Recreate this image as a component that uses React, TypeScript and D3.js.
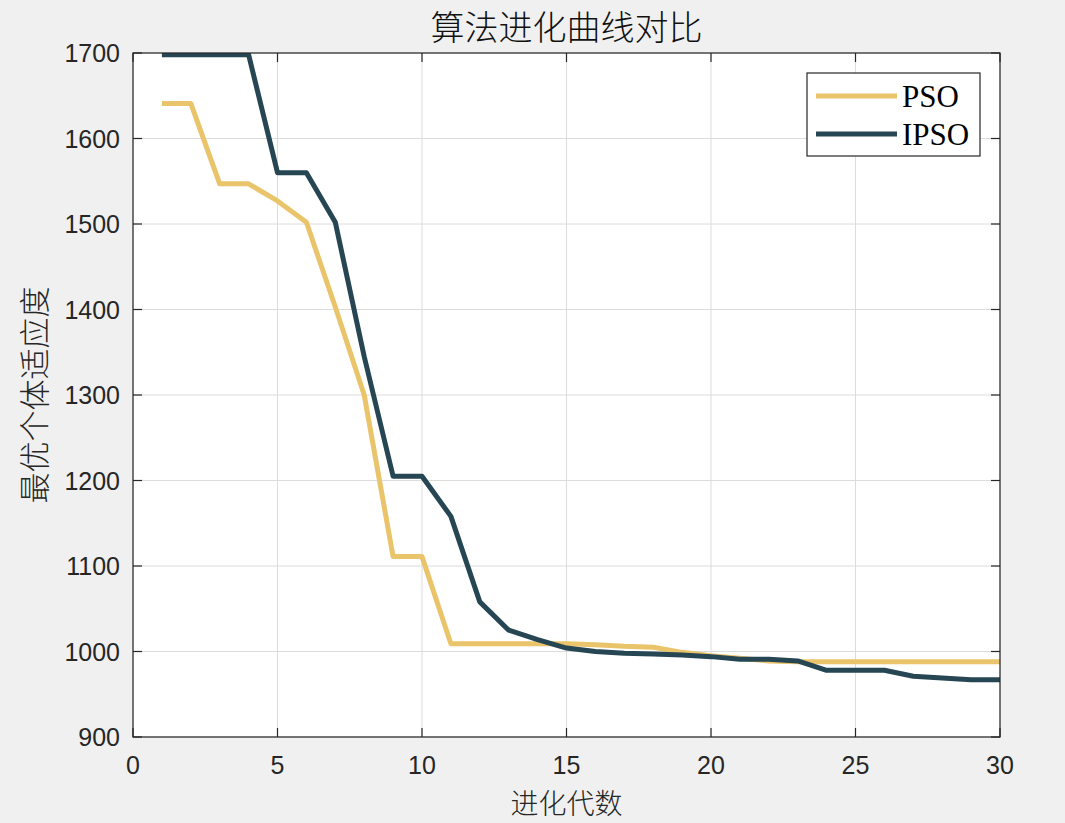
import React from "react";
import * as d3 from "d3";

const generations = d3.range(1, 31);
const psoValues = [1641, 1641, 1547, 1547, 1527, 1502, 1403, 1300, 1111, 1111, 1009, 1009, 1009, 1009, 1009, 1008, 1006, 1005, 999, 995, 992, 989, 988, 988, 988, 988, 988, 988, 988, 988];
const ipsoValues = [1698, 1698, 1698, 1698, 1560, 1560, 1502, 1345, 1205, 1205, 1158, 1058, 1025, 1014, 1004, 1000, 998, 997, 996, 994, 991, 991, 989, 978, 978, 978, 971, 969, 967, 967];
const xTicks = [0, 5, 10, 15, 20, 25, 30];
const yTicks = [900, 1000, 1100, 1200, 1300, 1400, 1500, 1600, 1700];
const seriesNames = ["PSO", "IPSO"];
const seriesColors = ["#E9C46A", "#264653"];
const titleText = "算法进化曲线对比";
const xLabel = "进化代数";
const yLabel = "最优个体适应度";

const W = 1065, H = 823;
const L = 133, R = 1000, T = 53, B = 737;

export default function App() {
  const x = d3.scaleLinear().domain([0, 30]).range([L, R]);
  const y = d3.scaleLinear().domain([900, 1700]).range([B, T]);
  const line = d3.line<number>().x((_, i) => x(generations[i])).y((d) => y(d));
  const series = [psoValues, ipsoValues];
  const axisColor = "#262626";
  const tickLen = 9;
  return (
    <svg width={W} height={H} style={{ position: "absolute", left: 0, top: 0, background: "#f0f0f0" }}>
      <defs>
        <clipPath id="plotclip">
          <rect x={L} y={T} width={R - L} height={B - T} />
        </clipPath>
      </defs>
      <rect x={0} y={0} width={W} height={H} fill="#f0f0f0" />
      <rect x={L} y={T} width={R - L} height={B - T} fill="#ffffff" />
      {xTicks.map((t) => (
        <line key={"gx" + t} x1={x(t)} x2={x(t)} y1={T} y2={B} stroke="#dcdcdc" strokeWidth={1} />
      ))}
      {yTicks.map((t) => (
        <line key={"gy" + t} x1={L} x2={R} y1={y(t)} y2={y(t)} stroke="#dcdcdc" strokeWidth={1} />
      ))}
      <g clipPath="url(#plotclip)">
        {series.map((s, i) => (
          <path key={i} d={line(s) || ""} fill="none" stroke={seriesColors[i]} strokeWidth={5} strokeLinejoin="round" />
        ))}
      </g>
      <rect x={L} y={T} width={R - L} height={B - T} fill="none" stroke={axisColor} strokeWidth={1.2} />
      {xTicks.map((t) => (
        <g key={"tx" + t}>
          <line x1={x(t)} x2={x(t)} y1={B} y2={B - tickLen} stroke={axisColor} strokeWidth={1.2} />
          <line x1={x(t)} x2={x(t)} y1={T} y2={T + tickLen} stroke={axisColor} strokeWidth={1.2} />
          <text x={x(t)} y={774} textAnchor="middle" fontFamily="'Liberation Sans', Arial, sans-serif" fontSize={25} fill={axisColor}>{t}</text>
        </g>
      ))}
      {yTicks.map((t) => (
        <g key={"ty" + t}>
          <line x1={L} x2={L + tickLen} y1={y(t)} y2={y(t)} stroke={axisColor} strokeWidth={1.2} />
          <line x1={R} x2={R - tickLen} y1={y(t)} y2={y(t)} stroke={axisColor} strokeWidth={1.2} />
          <text x={120} y={y(t)} dy="0.36em" textAnchor="end" fontFamily="'Liberation Sans', Arial, sans-serif" fontSize={25} fill={axisColor}>{t}</text>
        </g>
      ))}
      <text x={(L + R) / 2} y={40} textAnchor="middle" fontFamily="'Noto Sans CJK SC', sans-serif" fontWeight={300} fontSize={34} fill="#111">{titleText}</text>
      <text x={(L + R) / 2} y={814} textAnchor="middle" fontFamily="'Noto Sans CJK SC', sans-serif" fontWeight={300} fontSize={28} fill="#262626">{xLabel}</text>
      <text transform={`translate(46, ${(T + B) / 2}) rotate(-90)`} textAnchor="middle" fontFamily="'Noto Sans CJK SC', sans-serif" fontWeight={300} fontSize={31} fill="#262626">{yLabel}</text>
      <g>
        <rect x={807} y={73} width={173} height={83} fill="#ffffff" stroke={axisColor} strokeWidth={1.2} />
        {seriesNames.map((n, i) => (
          <g key={n}>
            <line x1={816} x2={897} y1={96 + i * 38} y2={96 + i * 38} stroke={seriesColors[i]} strokeWidth={5} />
            <text x={902} y={96 + i * 38} dy="0.35em" fontFamily="'Liberation Serif', 'Times New Roman', serif" fontSize={31} fill="#000">{n}</text>
          </g>
        ))}
      </g>
    </svg>
  );
}
